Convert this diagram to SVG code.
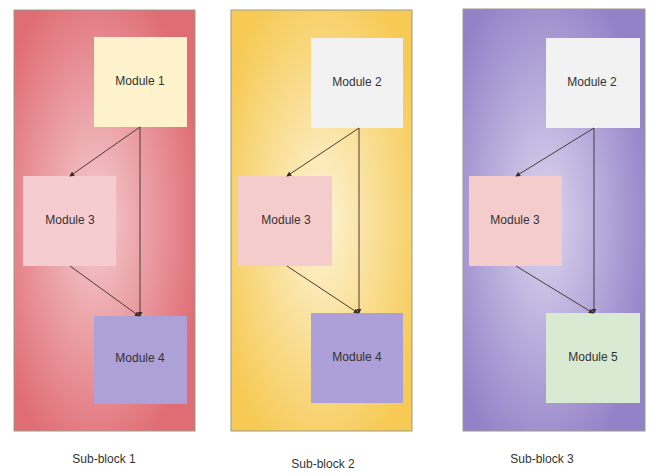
<svg xmlns="http://www.w3.org/2000/svg" width="652" height="474" viewBox="0 0 652 474">
<style>
.panel{stroke:#9a9a8a;stroke-width:1}
.node text,.lbl{font-family:"Liberation Sans",Arial,sans-serif;font-size:12px;fill:#333;text-anchor:middle}
.conn line{stroke:#4a3a3a;stroke-width:1;fill:none;marker-end:url(#ah)}
</style>
<defs>
<radialGradient id="g1" cx="0.45" cy="0.5" r="0.6">
<stop offset="0" stop-color="#f4cdd0"/>
<stop offset="1" stop-color="#e06c74"/>
</radialGradient>
<radialGradient id="g2" cx="0.5" cy="0.5" r="0.6">
<stop offset="0" stop-color="#fdf3d6"/>
<stop offset="1" stop-color="#f6ca55"/>
</radialGradient>
<radialGradient id="g3" cx="0.45" cy="0.5" r="0.6">
<stop offset="0" stop-color="#dcd6ef"/>
<stop offset="1" stop-color="#9482c8"/>
</radialGradient>
<marker id="ah" viewBox="0 0 6 6" refX="5" refY="3" markerWidth="5" markerHeight="5" orient="auto">
<path d="M0,0 L6,3 L0,6 Z" fill="#3a2a2a"/>
</marker>
</defs>
<rect width="652" height="474" fill="#fff"/>
<g id="panel1">
<rect class="panel" x="14" y="10" width="181" height="421" fill="url(#g1)"/>
<text class="lbl" x="104" y="463">Sub-block 1</text>
</g>
<g id="panel2">
<rect class="panel" x="231" y="10" width="181" height="421" fill="url(#g2)"/>
<text class="lbl" x="323" y="468">Sub-block 2</text>
</g>
<g id="panel3">
<rect class="panel" x="463" y="9" width="182" height="422" fill="url(#g3)"/>
<text class="lbl" x="542" y="463">Sub-block 3</text>
</g>
<g id="p1-module1" class="node"><rect x="94" y="37" width="93" height="90" fill="#fdf2cb"/><text x="140" y="85">Module 1</text></g>
<g id="p1-module3" class="node"><rect x="23" y="176" width="93" height="90" fill="#f5cdd0"/><text x="70" y="224">Module 3</text></g>
<g id="p1-module4" class="node"><rect x="94" y="316" width="93" height="88" fill="#ada1d8"/><text x="140" y="362">Module 4</text></g>
<g id="p2-module2" class="node"><rect x="311" y="38" width="92" height="90" fill="#f2f2f2"/><text x="357" y="86">Module 2</text></g>
<g id="p2-module3" class="node"><rect x="238" y="176" width="94" height="90" fill="#f4cccc"/><text x="286" y="224">Module 3</text></g>
<g id="p2-module4" class="node"><rect x="311" y="313" width="92" height="90" fill="#ad9fd7"/><text x="357" y="361">Module 4</text></g>
<g id="p3-module2" class="node"><rect x="546" y="38" width="94" height="90" fill="#f2f2f2"/><text x="592" y="86">Module 2</text></g>
<g id="p3-module3" class="node"><rect x="469" y="176" width="93" height="90" fill="#f4cccc"/><text x="515" y="224">Module 3</text></g>
<g id="p3-module5" class="node"><rect x="546" y="313" width="94" height="90" fill="#d9ead3"/><text x="593" y="361">Module 5</text></g>
<g id="connectors" class="conn">
<line x1="140" y1="127" x2="70" y2="176"/>
<line x1="140" y1="127" x2="140" y2="316"/>
<line x1="70" y1="266" x2="139" y2="316"/>
<line x1="359" y1="128" x2="287" y2="176"/>
<line x1="359" y1="128" x2="359" y2="313"/>
<line x1="287" y1="266" x2="358" y2="313"/>
<line x1="594" y1="128" x2="516" y2="176"/>
<line x1="594" y1="128" x2="594" y2="313"/>
<line x1="516" y1="266" x2="593" y2="313"/>
</g>
</svg>
